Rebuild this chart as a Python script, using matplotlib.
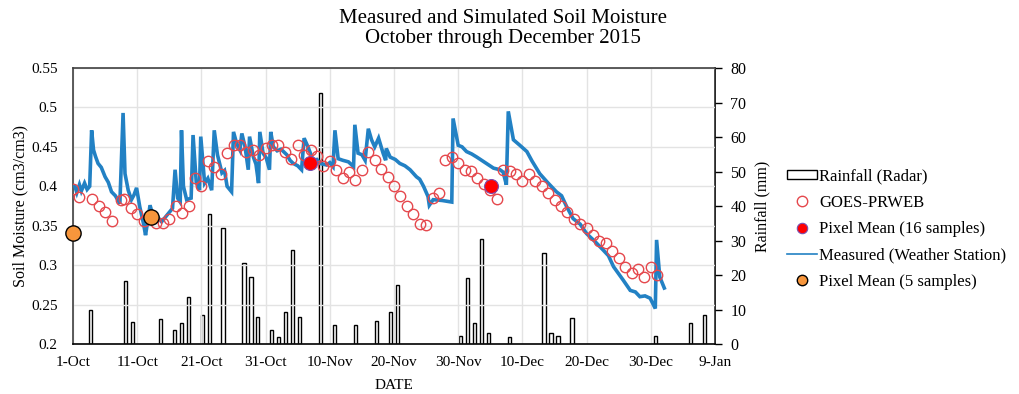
import numpy as np
import matplotlib
matplotlib.use("Agg")
import matplotlib.pyplot as plt
import matplotlib.dates as mdates
from matplotlib.patches import Patch
from matplotlib.lines import Line2D
import datetime as dt

plt.rcParams.update({
    "font.family": "Liberation Serif",
    "font.size": 11,
})

# ── Data ─────────────────────────────────────────────────────────────────────
START = dt.date(2015, 10, 1)

# daily radar rainfall (mm): day index from 1-Oct, value
rain_day = [2, 7, 8, 12, 14, 15, 16, 18, 19, 21, 24, 25, 26, 28, 29, 30, 31, 32,
            35, 37, 40, 43, 45, 46, 55, 56, 57, 58, 59, 62, 67, 68, 69, 71, 83, 88, 90]
rain_mm = [10.0, 18.4, 6.4, 7.2, 4.1, 6.0, 13.6, 8.4, 37.6, 33.6, 23.6, 19.5, 7.9,
           4.1, 1.9, 9.2, 27.2, 7.9, 72.7, 5.5, 5.5, 6.8, 9.2, 17.1, 2.3, 19.2, 6.0,
           30.3, 3.1, 1.9, 26.5, 3.1, 2.3, 7.6, 2.3, 6.0, 8.4]

# GOES-PRWEB simulated soil moisture
goes_day = [0, 1, 3, 4, 5, 6, 7.5, 8, 9, 10, 11, 13, 14, 15, 16, 17, 18, 19, 20,
            21, 22, 23, 24, 25, 26, 27, 28, 29, 30, 31, 32, 33, 34, 35, 36, 37, 38,
            39, 40, 41, 42, 43, 44, 45, 46, 47, 48, 49, 50, 51, 52, 53, 54, 55, 56,
            57, 58, 59, 60, 61, 62, 63, 64, 65, 66, 67, 68, 69, 70, 71, 72, 73, 74,
            75, 76, 77, 78, 79, 80, 81, 82, 83, 84, 85, 86, 87, 88, 89, 90, 91]
goes_sm = [0.396, 0.386, 0.384, 0.375, 0.367, 0.356, 0.383, 0.384, 0.373, 0.365,
           0.356, 0.354, 0.353, 0.358, 0.375, 0.366, 0.375, 0.410, 0.400, 0.432,
           0.424, 0.416, 0.442, 0.452, 0.452, 0.444, 0.446, 0.440, 0.449, 0.452,
           0.452, 0.444, 0.435, 0.452, 0.440, 0.446, 0.438, 0.426, 0.432, 0.421,
           0.410, 0.418, 0.408, 0.421, 0.444, 0.433, 0.422, 0.412, 0.400, 0.388,
           0.375, 0.365, 0.352, 0.351, 0.385, 0.391, 0.433, 0.437, 0.430, 0.421,
           0.419, 0.411, 0.403, 0.395, 0.384, 0.421, 0.419, 0.415, 0.407, 0.416,
           0.407, 0.400, 0.391, 0.383, 0.375, 0.368, 0.359, 0.352, 0.347, 0.338,
           0.330, 0.328, 0.318, 0.309, 0.298, 0.290, 0.295, 0.285, 0.298, 0.287]

# weather station probe
meas_day = [0.3, 0.6, 1.0, 1.3, 1.8, 2.2, 2.6, 2.9, 3.2, 3.5, 3.9, 4.4, 5.0, 5.5,
            6.0, 6.6, 7.3, 7.8, 8.1, 8.6, 9.1, 9.5, 9.9, 10.4, 11.0, 11.3, 12.0,
            12.5, 13.0, 13.4, 13.8, 15.5, 15.9, 16.3, 16.7, 16.9, 17.2, 17.7, 18.4,
            18.7, 19.2, 19.7, 19.9, 20.5, 21.0, 21.6, 22.0, 22.5, 23.2, 23.6, 24.0,
            24.7, 25.0, 25.5, 26.0, 26.3, 26.8, 27.3, 27.5, 28.1, 28.5, 28.9, 29.1,
            29.6, 30.1, 30.6, 30.8, 31.2, 31.8, 32.4, 33.3, 33.8, 34.3, 35.0, 35.6,
            36.0, 36.6, 37.4, 38.0, 38.5, 39.5, 40.0, 40.5, 40.8, 41.3, 42.0, 42.9,
            43.7, 43.9, 44.4, 45.0, 45.5, 46.0, 46.5, 47.0, 47.6, 48.3, 48.7, 48.8,
            49.4, 50.2, 50.9, 51.7, 52.5, 53.5, 54.0, 54.6, 55.3, 55.5, 56.1, 57.5,
            59.0, 59.2, 60.0, 60.6, 61.3, 62.1, 62.9, 64.2, 65.5, 66.5, 67.0, 67.5,
            67.8, 68.6, 69.6, 70.7, 71.5, 72.7, 73.9, 75.3, 76.1, 76.9, 77.9, 79.0,
            80.0, 81.3, 82.6, 83.4, 84.2, 85.7, 86.8, 87.6, 88.3, 89.1, 89.9, 90.7,
            90.9, 91.4, 92.1]
meas_sm = [0.400, 0.392, 0.402, 0.394, 0.404, 0.396, 0.400, 0.471, 0.446, 0.438,
           0.429, 0.424, 0.412, 0.405, 0.393, 0.388, 0.378, 0.493, 0.416, 0.395,
           0.383, 0.389, 0.398, 0.374, 0.352, 0.338, 0.376, 0.361, 0.356, 0.359,
           0.355, 0.372, 0.421, 0.385, 0.380, 0.471, 0.400, 0.383, 0.385, 0.465,
           0.405, 0.395, 0.463, 0.404, 0.410, 0.395, 0.471, 0.440, 0.417, 0.420,
           0.400, 0.393, 0.469, 0.454, 0.446, 0.467, 0.450, 0.421, 0.463, 0.437,
           0.428, 0.404, 0.469, 0.442, 0.436, 0.421, 0.469, 0.450, 0.445, 0.447,
           0.440, 0.433, 0.429, 0.426, 0.421, 0.461, 0.450, 0.433, 0.434, 0.429,
           0.427, 0.430, 0.425, 0.471, 0.435, 0.433, 0.431, 0.425, 0.478, 0.442,
           0.440, 0.433, 0.473, 0.459, 0.450, 0.461, 0.442, 0.433, 0.448, 0.437,
           0.434, 0.429, 0.426, 0.421, 0.412, 0.409, 0.400, 0.387, 0.376, 0.383,
           0.382, 0.380, 0.486, 0.452, 0.450, 0.444, 0.441, 0.437, 0.430, 0.423,
           0.421, 0.418, 0.402, 0.495, 0.459, 0.452, 0.444, 0.432, 0.416, 0.405,
           0.393, 0.388, 0.374, 0.359, 0.352, 0.340, 0.330, 0.319, 0.312, 0.298,
           0.281, 0.268, 0.266, 0.260, 0.261, 0.258, 0.245, 0.332, 0.285, 0.271]

# field sampling campaigns
pix16_day = [36.9, 65.1]
pix16_sm = [0.430, 0.400]
pix5_day = [0.0, 12.1]
pix5_sm = [0.341, 0.361]

BLUE = "#2281C4"
RED_EDGE = "#E5484D"
ORANGE = "#F7963C"

# ── Figure ───────────────────────────────────────────────────────────────────
fig = plt.figure(figsize=(10.19, 3.94), dpi=100)
rect = [73 / 1019, 50 / 394, 642 / 1019, 276 / 394]

ax = fig.add_axes(rect)
ax_rain = fig.add_axes(rect)

t0 = mdates.date2num(START)
to_x = lambda days: t0 + np.asarray(days, dtype=float)

# soil moisture axis (left)
ax.grid(True, color="#E3E3E3", linewidth=1.0, zorder=0)
ax.set_axisbelow(True)
ax.plot(to_x(meas_day), meas_sm, color=BLUE, linewidth=2.6, zorder=3,
        solid_joinstyle="miter")
ax.plot(to_x(goes_day), goes_sm, linestyle="none", marker="o", markersize=7.5,
        markerfacecolor="none", markeredgecolor=RED_EDGE, markeredgewidth=1.0, zorder=4)
ax.plot(to_x(pix16_day), pix16_sm, linestyle="none", marker="o", markersize=10,
        markerfacecolor="#FF0000", markeredgecolor="#7A4FB0", markeredgewidth=0.8, zorder=5)
ax.plot(to_x(pix5_day), pix5_sm, linestyle="none", marker="o", markersize=11,
        markerfacecolor=ORANGE, markeredgecolor="black", markeredgewidth=1.0,
        zorder=6, clip_on=False)

ax.set_ylim(0.2, 0.55)
ax.set_yticks(np.arange(0.2, 0.551, 0.05))
ax.yaxis.set_major_formatter(plt.FuncFormatter(lambda v, _: f"{v:g}"))
ax.set_xlim(t0, t0 + 100)
ax.set_xticks(to_x(np.arange(0, 101, 10)))
ax.xaxis.set_major_formatter(mdates.DateFormatter("%-d-%b"))
ax.tick_params(axis="both", length=0, labelsize=11)
ax.tick_params(axis="y", pad=11)
ax.tick_params(axis="x", pad=9)
ax.set_ylabel("Soil Moisture (cm3/cm3)", fontsize=11.5, labelpad=2)
ax.set_xlabel("DATE", fontsize=11, labelpad=7)
for side in ["left", "top"]:
    ax.spines[side].set_color("#404040")
    ax.spines[side].set_linewidth(1.2)
ax.spines["bottom"].set_color("black")
ax.spines["bottom"].set_linewidth(1.2)
ax.spines["right"].set_visible(False)

# rainfall axis (right), one slot per day of the quarter
ax_rain.bar(rain_day, rain_mm, width=0.45, facecolor="white", edgecolor="black",
            linewidth=1.0, zorder=2)
ax_rain.set_xlim(-0.5, 91.5)
ax_rain.set_ylim(0, 80)
ax_rain.set_yticks(np.arange(0, 81, 10))
ax_rain.xaxis.set_visible(False)
ax_rain.yaxis.tick_right()
ax_rain.yaxis.set_label_position("right")
ax_rain.tick_params(axis="y", direction="out", length=5, width=1.0, labelsize=11.5, pad=6)
ax_rain.set_ylabel("Rainfall (mm)", fontsize=11.5, labelpad=6)
for side in ["left", "top", "bottom"]:
    ax_rain.spines[side].set_visible(False)
ax_rain.spines["right"].set_color("black")
ax_rain.spines["right"].set_linewidth(1.2)

# bring the moisture series above the bars
ax.set_zorder(ax_rain.get_zorder() + 1)
ax.patch.set_visible(False)
ax_rain.patch.set_facecolor("white")

fig.text(503 / 1019, 1 - 9 / 394,
         "Measured and Simulated Soil Moisture\nOctober through December 2015",
         ha="center", va="top", fontsize=15, linespacing=1.1)

handles = [
    Patch(facecolor="white", edgecolor="black", linewidth=1.0),
    Line2D([], [], linestyle="none", marker="o", markersize=7.5,
           markerfacecolor="none", markeredgecolor=RED_EDGE),
    Line2D([], [], linestyle="none", marker="o", markersize=7.5,
           markerfacecolor="#FF0000", markeredgecolor="#7A4FB0", markeredgewidth=0.8),
    Line2D([], [], color=BLUE, linewidth=1.2),
    Line2D([], [], linestyle="none", marker="o", markersize=7.5,
           markerfacecolor=ORANGE, markeredgecolor="black"),
]
labels = ["Rainfall (Radar)", "GOES-PRWEB", "Pixel Mean (16 samples)",
          "Measured (Weather Station)", "Pixel Mean (5 samples)"]
fig.legend(handles, labels, loc="center left", bbox_to_anchor=(779 / 1019, 1 - 229 / 394),
           frameon=False, fontsize=12, labelspacing=0.62, handlelength=1.75,
           handleheight=0.5, handletextpad=0.15, borderpad=0)

fig.savefig("out.png", dpi=100)
